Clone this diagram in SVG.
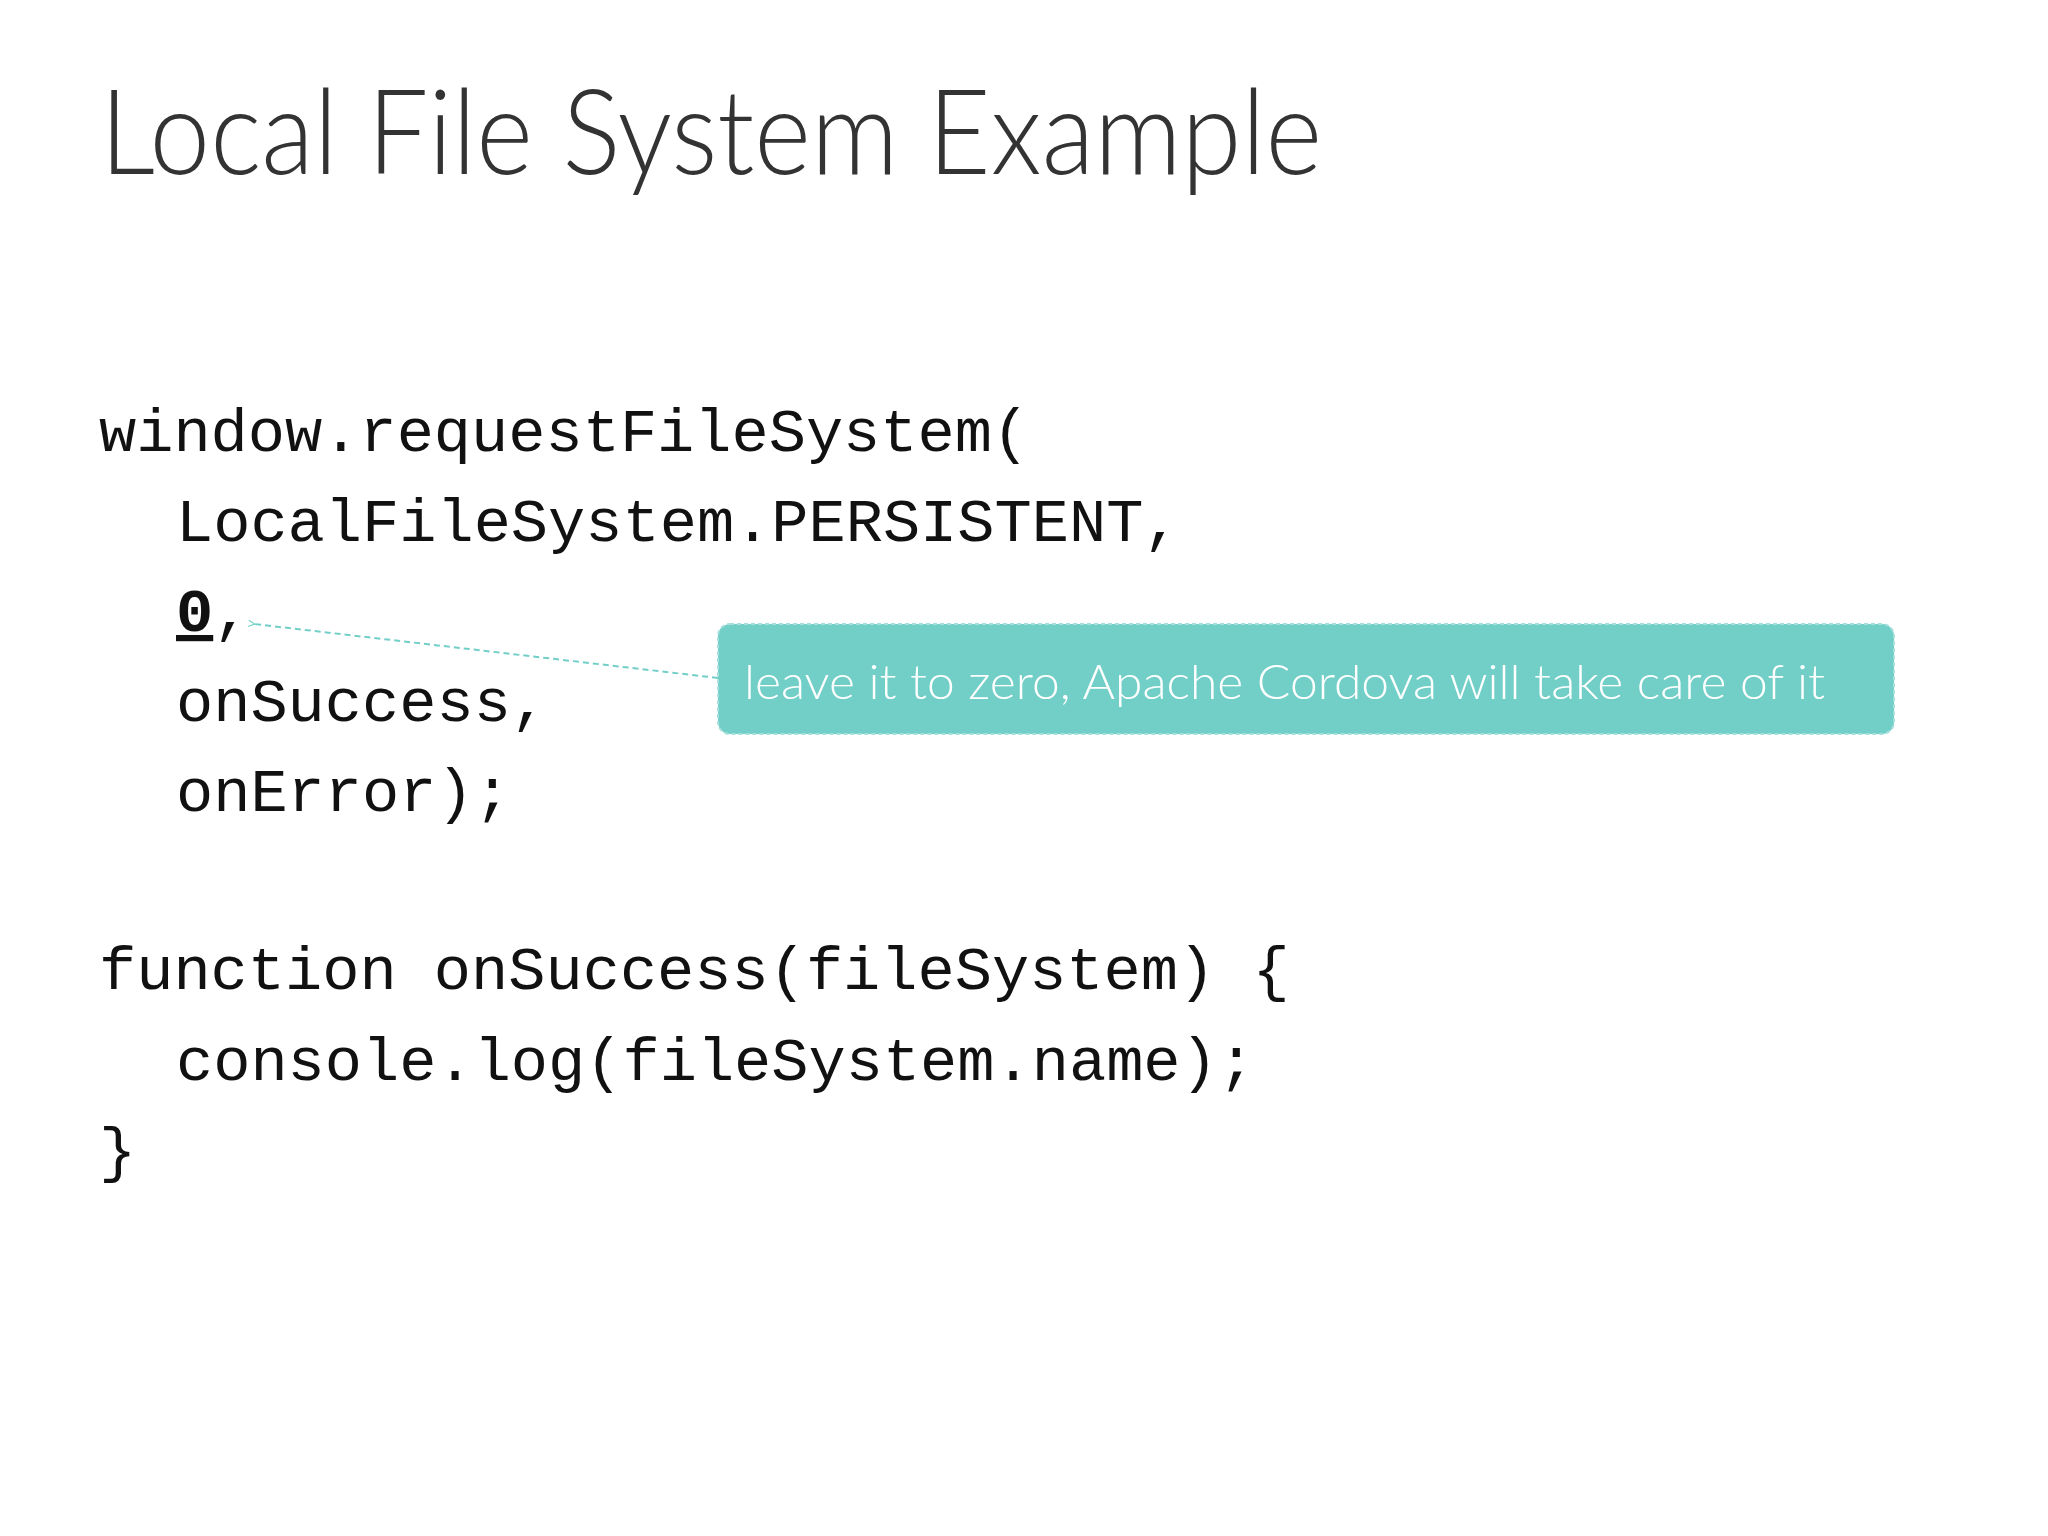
<svg xmlns="http://www.w3.org/2000/svg" width="2048" height="1536" viewBox="0 0 2048 1536">
<style>
.code{font-family:"Liberation Mono","DejaVu Sans Mono",monospace;font-size:62px;fill:#111;white-space:pre}
.title{font-family:Lato,"Open Sans",sans-serif;font-weight:300;font-size:118px;fill:#333}
.note{font-family:Lato,"Open Sans",sans-serif;font-weight:300;font-size:48px;fill:#fff}
</style>
<defs>
<marker id="ah" viewBox="0 0 10 10" refX="2" refY="5" markerWidth="8" markerHeight="8" orient="auto-start-reverse" markerUnits="userSpaceOnUse">
<path d="M9,1 L1,5 L9,9" fill="none" stroke="#72cfc8" stroke-width="1.5"/>
</marker>
</defs>
<rect width="2048" height="1536" fill="#fff"/>
<g id="title"><text class="title" x="100" y="174" textLength="1222" lengthAdjust="spacingAndGlyphs">Local File System Example</text></g>
<g id="code">
<text class="code" x="99" y="451">window.requestFileSystem(</text>
<text class="code" x="176" y="541">LocalFileSystem.PERSISTENT,</text>
<text class="code" x="176" y="631"><tspan font-weight="bold" text-decoration="underline">0</tspan>,</text>
<text class="code" x="176" y="721">onSuccess,</text>
<text class="code" x="176" y="811">onError);</text>
<text class="code" x="99" y="989">function onSuccess(fileSystem) {</text>
<text class="code" x="176" y="1080">console.log(fileSystem.name);</text>
<text class="code" x="99" y="1170">}</text>
</g>
<g id="connectors">
<line x1="718" y1="678" x2="254" y2="624" stroke="#72cfc8" stroke-width="2" stroke-dasharray="6,4" marker-end="url(#ah)"/>
</g>
<g id="note">
<rect x="718" y="624" width="1176" height="110" rx="12" fill="#72cfc8" stroke="#a6e0dc" stroke-width="2" stroke-dasharray="4,3"/>
<text class="note" x="744" y="699" textLength="1081" lengthAdjust="spacingAndGlyphs">leave it to zero, Apache Cordova will take care of it</text>
</g>
</svg>
